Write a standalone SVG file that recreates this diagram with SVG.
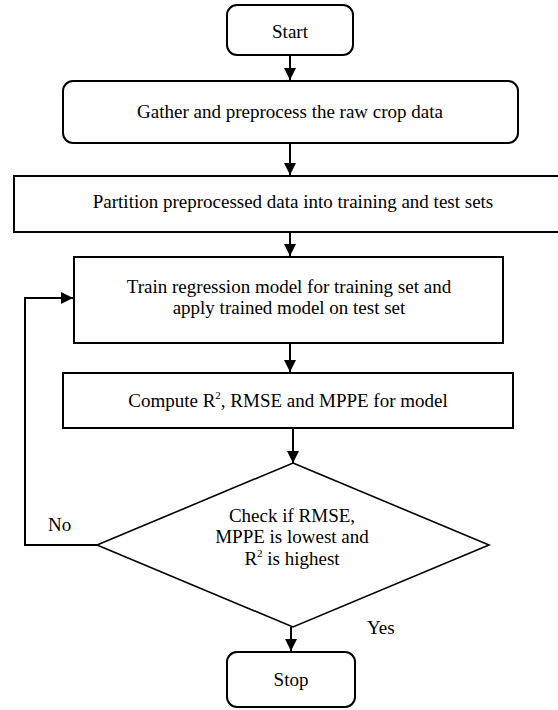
<svg xmlns="http://www.w3.org/2000/svg" width="558" height="710" viewBox="0 0 558 710">
<style>
.box{fill:#fff;stroke:#000;stroke-width:2}
.dia{fill:#fff;stroke:#000;stroke-width:1.6}
.t{font-family:'Liberation Serif','Times New Roman',Times,Tinos,'DejaVu Serif',serif;font-size:19px;fill:#000;text-anchor:middle}
.l{font-family:'Liberation Serif','Times New Roman',Times,Tinos,'DejaVu Serif',serif;font-size:19px;fill:#000}
.c{fill:none;stroke:#000;stroke-width:2}
.sup{font-size:11px}
</style>
<defs>
<marker id="ah" markerWidth="12" markerHeight="12" viewBox="0 0 12 12" refX="12" refY="6" orient="auto" markerUnits="userSpaceOnUse">
<path d="M0,0 L12,6 L0,12 Z" fill="#000"/>
</marker>
</defs>
<rect width="558" height="710" fill="#fff"/>
<g id="connectors">
<line class="c" x1="290" y1="55" x2="290" y2="80" marker-end="url(#ah)"/>
<line class="c" x1="290" y1="143" x2="290" y2="175" marker-end="url(#ah)"/>
<line class="c" x1="290" y1="232" x2="290" y2="256" marker-end="url(#ah)"/>
<line class="c" x1="290" y1="343" x2="290" y2="372" marker-end="url(#ah)"/>
<line class="c" x1="293" y1="428" x2="293" y2="463" marker-end="url(#ah)"/>
<line class="c" x1="291" y1="627" x2="291" y2="651" marker-end="url(#ah)"/>
<polyline class="c" points="97,545 25,545 25,298 73,298" marker-end="url(#ah)"/>
<text class="l" x="48" y="531" font-family="Liberation Serif, serif">No</text>
<text class="l" x="367" y="634" font-family="Liberation Serif, serif">Yes</text>
</g>
<g id="start">
<rect class="box" x="227" y="5" width="126" height="50" rx="10"/>
<text class="t" x="290" y="38">Start</text>
</g>
<g id="gather">
<rect class="box" x="63" y="81" width="455" height="62" rx="10"/>
<text class="t" x="290" y="118">Gather and preprocess the raw crop data</text>
</g>
<g id="partition">
<rect class="box" x="14" y="176" width="546" height="56"/>
<text class="t" x="293" y="208">Partition preprocessed data into training and test sets</text>
</g>
<g id="train">
<rect class="box" x="74" y="257" width="429" height="86"/>
<text class="t" x="289" y="293">Train regression model for training set and</text>
<text class="t" x="289" y="314">apply trained model on test set</text>
</g>
<g id="compute">
<rect class="box" x="63" y="373" width="450" height="55"/>
<text class="t" x="288" y="407">Compute R<tspan class="sup" dy="-8">2</tspan><tspan dy="8">, RMSE and MPPE for model</tspan></text>
</g>
<g id="check">
<polygon class="dia" points="293,463 489,545 293,627 97,545"/>
<text class="t" x="292" y="522">Check if RMSE,</text>
<text class="t" x="292" y="543">MPPE is lowest and</text>
<text class="t" x="292" y="565">R<tspan class="sup" dy="-8">2</tspan><tspan dy="8"> is highest</tspan></text>
</g>
<g id="stop">
<rect class="box" x="227" y="652" width="128" height="55" rx="10"/>
<text class="t" x="291" y="686">Stop</text>
</g>
</svg>
